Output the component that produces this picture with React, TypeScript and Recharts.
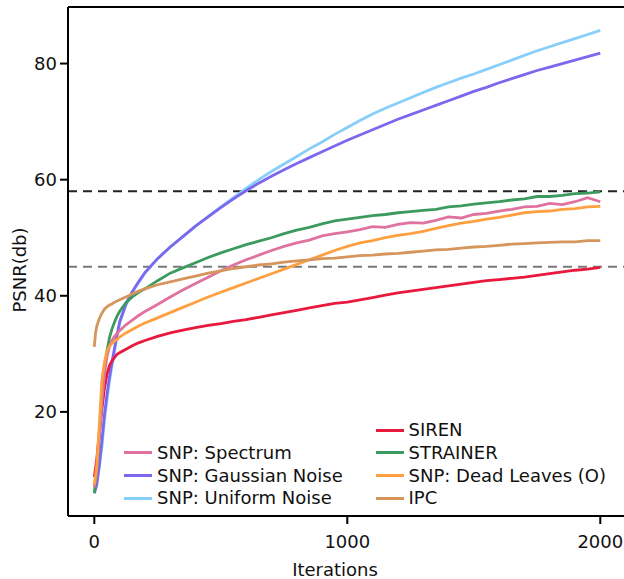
import React from 'react';
import { LineChart, Line, XAxis, YAxis, ReferenceLine } from 'recharts';

const iterations = [0, 5, 10, 20, 30, 40, 50, 60, 70, 80, 90, 100, 125, 150, 175, 200,
  250, 300, 350, 400, 450, 500, 550, 600, 650, 700, 750, 800, 850, 900, 950, 1000,
  1050, 1100, 1150, 1200, 1250, 1300, 1350, 1400, 1450, 1500, 1550, 1600, 1650, 1700,
  1750, 1800, 1850, 1900, 1950, 2000];

const snpSpectrum = [7.0, 8.5, 10.0, 16.0, 22.0, 26.5, 29.5, 31.3, 32.3, 33.0, 33.5, 34.0, 35.0, 35.8, 36.6, 37.3,
  38.5, 39.8, 41.0, 42.1, 43.2, 44.3, 45.3, 46.2, 47.0, 47.8, 48.5, 49.1, 49.6, 50.3, 50.7, 51.0,
  51.4, 51.9, 51.8, 52.3, 52.6, 52.5, 53.0, 53.6, 53.4, 54.0, 54.2, 54.6, 54.9, 55.3,
  55.4, 55.9, 55.7, 56.2, 56.9, 56.2];

const snpGaussian = [6.0, 6.7, 7.5, 11.0, 15.0, 19.5, 23.0, 26.0, 28.6, 31.0, 33.3, 35.5, 38.6, 40.7, 42.4, 44.0,
  46.4, 48.4, 50.2, 52.0, 53.6, 55.2, 56.7, 58.1, 59.4, 60.6, 61.7, 62.8, 63.8, 64.8, 65.8, 66.8,
  67.7, 68.6, 69.5, 70.4, 71.2, 72.0, 72.8, 73.6, 74.4, 75.2, 75.9, 76.7, 77.4, 78.1,
  78.8, 79.4, 80.0, 80.6, 81.2, 81.8];

const snpUniform = [6.0, 7.0, 8.0, 10.5, 14.0, 18.5, 22.0, 25.3, 28.0, 30.5, 33.0, 35.2, 38.4, 40.6, 42.3, 43.9,
  46.4, 48.4, 50.2, 52.0, 53.7, 55.3, 56.9, 58.5, 60.0, 61.4, 62.7, 64.0, 65.3, 66.5, 67.8, 69.0,
  70.2, 71.3, 72.3, 73.2, 74.1, 75.0, 75.9, 76.7, 77.5, 78.2, 79.0, 79.8, 80.6, 81.4,
  82.2, 82.9, 83.6, 84.3, 85.0, 85.7];

const siren = [8.8, 10.3, 12.0, 16.5, 20.5, 24.0, 26.5, 28.0, 28.8, 29.4, 29.9, 30.2, 30.8, 31.4, 31.9, 32.3,
  33.0, 33.6, 34.1, 34.5, 34.9, 35.2, 35.6, 35.9, 36.3, 36.7, 37.1, 37.5, 37.9, 38.3, 38.7, 38.9,
  39.3, 39.7, 40.1, 40.5, 40.8, 41.1, 41.4, 41.7, 42.0, 42.3, 42.6, 42.8, 43.0, 43.2,
  43.5, 43.8, 44.1, 44.4, 44.6, 44.9];

const strainer = [6.0, 8.0, 10.0, 16.0, 22.0, 27.0, 30.5, 32.8, 34.3, 35.5, 36.5, 37.3, 38.8, 39.8, 40.6, 41.2,
  42.6, 43.9, 44.8, 45.7, 46.6, 47.4, 48.1, 48.8, 49.4, 50.0, 50.7, 51.3, 51.8, 52.4, 52.9, 53.2,
  53.5, 53.8, 54.0, 54.3, 54.5, 54.7, 54.9, 55.3, 55.5, 55.8, 56.0, 56.2, 56.5, 56.7,
  57.1, 57.1, 57.3, 57.6, 57.7, 57.9];

const snpDeadLeaves = [7.5, 9.0, 11.0, 18.0, 25.5, 28.5, 30.5, 31.3, 31.8, 32.2, 32.5, 32.9, 33.6, 34.2, 34.8, 35.3,
  36.2, 37.1, 38.0, 38.9, 39.8, 40.6, 41.4, 42.2, 43.0, 43.8, 44.6, 45.4, 46.2, 47.0, 47.8, 48.5,
  49.1, 49.5, 50.0, 50.4, 50.7, 51.1, 51.6, 52.1, 52.5, 52.8, 53.2, 53.5, 53.9, 54.3,
  54.5, 54.6, 54.9, 55.0, 55.3, 55.4];

const ipc = [31.2, 33.7, 34.8, 36.1, 37.0, 37.7, 38.1, 38.4, 38.6, 38.9, 39.1, 39.3, 39.8, 40.3, 40.8, 41.2,
  41.9, 42.4, 42.9, 43.4, 43.9, 44.3, 44.7, 45.0, 45.3, 45.5, 45.8, 46.0, 46.2, 46.4, 46.5, 46.7,
  46.9, 47.0, 47.2, 47.3, 47.5, 47.7, 47.9, 48.0, 48.2, 48.4, 48.5, 48.7, 48.9, 49.0,
  49.1, 49.2, 49.3, 49.3, 49.5, 49.5];

const xTicks = [0, 1000, 2000];
const yTicks = [20, 40, 60, 80];
const referenceLevels = [58, 45];

const seriesKeys = ['uniform', 'gaussian', 'siren', 'strainer', 'spectrum', 'deadLeaves', 'ipc'];
const seriesValues: Record<string, number[]> = {
  spectrum: snpSpectrum,
  gaussian: snpGaussian,
  uniform: snpUniform,
  siren: siren,
  strainer: strainer,
  deadLeaves: snpDeadLeaves,
  ipc: ipc,
};
const seriesLabels: Record<string, string> = {
  spectrum: 'SNP: Spectrum',
  gaussian: 'SNP: Gaussian Noise',
  uniform: 'SNP: Uniform Noise',
  siren: 'SIREN',
  strainer: 'STRAINER',
  deadLeaves: 'SNP: Dead Leaves (O)',
  ipc: 'IPC',
};
const seriesColors: Record<string, string> = {
  spectrum: '#e0729f',
  gaussian: '#7b68ee',
  uniform: '#87cefa',
  siren: '#e8193c',
  strainer: '#3c9a5f',
  deadLeaves: '#ffa040',
  ipc: '#d6955c',
};

const legendCol1 = ['spectrum', 'gaussian', 'uniform'];
const legendCol2 = ['siren', 'strainer', 'deadLeaves', 'ipc'];

const data = iterations.map((it, i) => {
  const row: Record<string, number> = { it };
  for (const k of seriesKeys) row[k] = seriesValues[k][i];
  return row;
});

const FONT = '"DejaVu Sans", Verdana, sans-serif';
const Y_MIN = 2.07;
const Y_MAX = 89.74;

function LegendItem({ k, x, y }: { k: string; x: number; y: number }) {
  return (
    <div style={{ position: 'absolute', left: x, top: y - 9, height: 18, display: 'flex', alignItems: 'center', whiteSpace: 'nowrap' }}>
      <div style={{ width: 28, height: 3, background: seriesColors[k], marginRight: 5 }} />
      <span style={{ fontFamily: FONT, fontSize: 18, lineHeight: '18px', color: '#111' }}>{seriesLabels[k]}</span>
    </div>
  );
}

export default function App() {
  const rowGap = 22.8;
  return (
    <div style={{ position: 'absolute', left: 0, top: 0, width: 624, height: 579, overflow: 'hidden', background: '#fff' }}>
      <LineChart width={650} height={579} data={data} margin={{ top: 7, right: 23.4, bottom: 0, left: 0 }}>
        <XAxis
          dataKey="it"
          type="number"
          domain={[-104, 2104]}
          ticks={xTicks}
          allowDataOverflow
          height={63}
          tickSize={8}
          tickMargin={11}
          axisLine={{ stroke: '#000', strokeWidth: 2 }}
          tickLine={{ stroke: '#000', strokeWidth: 2 }}
          tick={{ fill: '#111', fontSize: 18, fontFamily: FONT }}
        />
        <YAxis
          type="number"
          domain={[Y_MIN, Y_MAX]}
          ticks={yTicks}
          allowDataOverflow
          width={68}
          tickSize={8}
          tickMargin={3}
          axisLine={{ stroke: '#000', strokeWidth: 2 }}
          tickLine={{ stroke: '#000', strokeWidth: 2 }}
          tick={{ fill: '#111', fontSize: 18, fontFamily: FONT }}
        />
        <ReferenceLine y={Y_MAX} stroke="#000" strokeWidth={2} />
        <ReferenceLine y={referenceLevels[0]} stroke="#222" strokeWidth={2} strokeDasharray="9 6" />
        <ReferenceLine y={referenceLevels[1]} stroke="#7a7a7a" strokeWidth={2} strokeDasharray="9 6" />
        {seriesKeys.map((k) => (
          <Line
            key={k}
            dataKey={k}
            type="linear"
            stroke={seriesColors[k]}
            strokeWidth={2.8}
            dot={false}
            isAnimationActive={false}
            name={seriesLabels[k]}
          />
        ))}
      </LineChart>
      <svg width={624} height={579} style={{ position: 'absolute', left: 0, top: 0, pointerEvents: 'none' }}>
        <text x={335} y={576} textAnchor="middle" fontFamily={FONT} fontSize={18} fill="#111">Iterations</text>
        <text x={26} y={270} textAnchor="middle" fontFamily={FONT} fontSize={18} fill="#111" transform="rotate(-90 26 270)">PSNR(db)</text>
      </svg>
      {legendCol1.map((k, i) => (
        <LegendItem key={k} k={k} x={124} y={430 + rowGap * (i + 1)} />
      ))}
      {legendCol2.map((k, i) => (
        <LegendItem key={k} k={k} x={375.5} y={430 + rowGap * i} />
      ))}
    </div>
  );
}
